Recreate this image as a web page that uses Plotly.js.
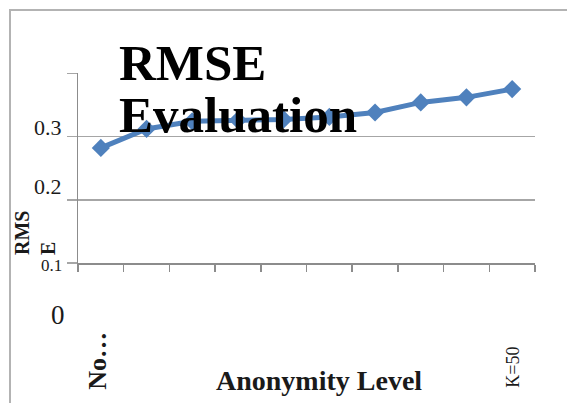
<!DOCTYPE html>
<html>
<head>
<meta charset="utf-8">
<script src="https://cdn.plot.ly/plotly-3.0.1.min.js"></script>
<style>
  html, body { margin: 0; padding: 0; background: #ffffff; }
  #chart { width: 567px; height: 403px; }
</style>
</head>
<body>
<div id="chart"></div>
<script>
// ---- data ----
const categories = ["No anonymization", "K=5", "K=10", "K=15", "K=20", "K=25", "K=30", "K=35", "K=40", "K=50"];
const rmse = [0.282, 0.312, 0.324, 0.326, 0.327, 0.331, 0.338, 0.354, 0.362, 0.375];
const gridValues = [0.1, 0.2, 0.3, 0.4];
const yTickLabels = ["0.3", "0.2", "0.1", "0"];
const xTickCategories = ["No anonymization", "K=50"];
const xTickLabels = ["No…", "K=50"];
const titleLines = ["RMSE", "Evaluation"];
const xTitle = "Anonymity Level";
const yTitle = "RMS<br>E";

// ---- layout helpers (pixel -> paper) ----
const M = {l: 78, r: 32, t: 73, b: 140};
const W = 567, H = 403;
const PW = W - M.l - M.r, PH = H - M.t - M.b;
const px = p => (p - M.l) / PW;
const py = p => (H - M.b - p) / PH;

const serif = "Liberation Serif, Times New Roman, serif";
const ink = "#1a1a1a";
const grey = "#a6a6a6";

const trace = {
  type: "scatter",
  mode: "lines+markers",
  x: categories,
  y: rmse,
  line: {color: "#4f81bd", width: 5},
  marker: {symbol: "diamond", size: 14, color: "#4f81bd"},
  cliponaxis: false,
  hoverinfo: "x+y"
};

const annotations = [];
// title (two lines, tight leading as in reference)
annotations.push({xref: "paper", yref: "paper", x: px(117), y: py(63), xanchor: "left", yanchor: "middle",
  text: titleLines[0], showarrow: false, font: {family: serif, size: 51, weight: "bold", color: "#000"}});
annotations.push({xref: "paper", yref: "paper", x: px(117), y: py(115), xanchor: "left", yanchor: "middle",
  text: titleLines[1], showarrow: false, font: {family: serif, size: 51, weight: "bold", color: "#000"}});
// y tick labels (misplaced as in reference)
const yLabelPix = [[127, 22], [186, 22], [265, 17], [315, 27]];
yTickLabels.forEach((t, i) => {
  annotations.push({xref: "paper", yref: "paper", x: px(i === 3 ? 67 : 64), y: py(yLabelPix[i][0]),
    xanchor: "right", yanchor: "middle", text: t, showarrow: false,
    font: {family: serif, size: yLabelPix[i][1], color: ink}});
});
// x tick labels (rotated)
annotations.push({xref: "x", yref: "paper", x: xTickCategories[0], xshift: -4, y: py(392), xanchor: "center", yanchor: "bottom",
  textangle: -90, text: xTickLabels[0], showarrow: false, font: {family: serif, size: 26, weight: "bold", color: ink}});
annotations.push({xref: "x", yref: "paper", x: xTickCategories[1], y: py(390), xanchor: "center", yanchor: "bottom",
  textangle: -90, text: xTickLabels[1], showarrow: false, font: {family: serif, size: 18, color: ink}});
// axis titles
annotations.push({xref: "paper", yref: "paper", x: px(319), y: py(380), xanchor: "center", yanchor: "middle",
  text: xTitle, showarrow: false, font: {family: serif, size: 28, weight: "bold", color: ink}});
annotations.push({xref: "paper", yref: "paper", x: px(35), y: py(257), xanchor: "center", yanchor: "bottom",
  textangle: -90, align: "left", text: yTitle, showarrow: false, font: {family: serif, size: 20, weight: "bold", color: ink}});

const layout = {
  width: W, height: H,
  margin: M,
  paper_bgcolor: "#ffffff", plot_bgcolor: "#ffffff",
  showlegend: false,
  font: {family: serif, color: ink},
  xaxis: {
    type: "category",
    categoryorder: "array", categoryarray: categories,
    range: [-0.5, categories.length - 0.5],
    showgrid: false, zeroline: false,
    showline: true, linecolor: "#8c8c8c", linewidth: 1.5,
    ticks: "outside", tickson: "boundaries", ticklen: 7, tickcolor: "#8c8c8c", tickwidth: 1.5,
    showticklabels: false
  },
  yaxis: {
    range: [0.1, 0.4005],
    tickvals: gridValues,
    showgrid: true, gridcolor: grey, gridwidth: 1.5,
    zeroline: false,
    showline: true, linecolor: "#8c8c8c", linewidth: 1.5,
    ticks: "outside", ticklen: 10, tickcolor: grey, tickwidth: 1.5,
    showticklabels: false
  },
  shapes: [
    {type: "path", xref: "paper", yref: "paper",
     path: `M ${px(10)} ${py(403)} L ${px(10)} ${py(10)} L ${px(567)} ${py(10)}`,
     line: {color: "#b3b3b3", width: 2}}
  ],
  annotations: annotations
};

Plotly.newPlot("chart", [trace], layout, {staticPlot: true, displayModeBar: false});
</script>
</body>
</html>
